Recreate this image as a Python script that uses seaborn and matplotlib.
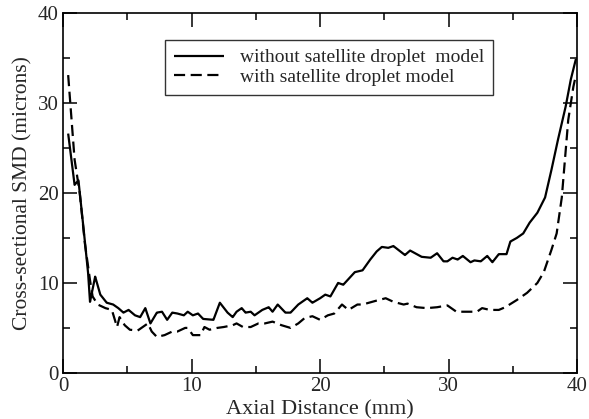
import matplotlib
matplotlib.use("Agg")
import matplotlib.pyplot as plt
import pandas as pd
import seaborn as sns
from matplotlib.ticker import MultipleLocator

# Solid curve: without satellite droplet model
x_without = [0.4, 0.9, 1.2, 1.6, 1.95, 2.1, 2.5, 2.9, 3.4, 3.9, 4.3, 4.7, 5.1, 5.6, 6.0,
             6.4, 6.8, 7.3, 7.7, 8.1, 8.5, 8.9, 9.4, 9.7, 10.1, 10.5, 10.9, 11.7, 12.2,
             12.8, 13.2, 13.5, 13.9, 14.2, 14.6, 14.9, 15.5, 16.0, 16.3, 16.7, 17.3, 17.7,
             18.3, 19.0, 19.4, 20.0, 20.4, 20.8, 21.4, 21.8, 22.7, 23.3, 23.9, 24.4, 24.8,
             25.3, 25.7, 26.6, 27.0, 27.9, 28.6, 29.1, 29.6, 29.9, 30.3, 30.7, 31.1, 31.7,
             32.0, 32.5, 33.0, 33.4, 33.9, 34.5, 34.8, 35.3, 35.8, 36.3, 36.9, 37.5, 38.0,
             38.5, 39.1, 39.5, 39.9]
y_without = [26.6, 20.9, 21.4, 16.0, 11.1, 7.9, 10.7, 8.7, 7.8, 7.6, 7.2, 6.7, 7.0, 6.4, 6.2,
             7.2, 5.5, 6.7, 6.8, 5.9, 6.7, 6.6, 6.4, 6.8, 6.4, 6.6, 6.0, 5.9, 7.8,
             6.7, 6.2, 6.8, 7.2, 6.7, 6.8, 6.4, 7.0, 7.3, 6.8, 7.6, 6.7, 6.7,
             7.6, 8.3, 7.8, 8.3, 8.7, 8.5, 10.0, 9.8, 11.2, 11.4, 12.6, 13.5, 14.0,
             13.9, 14.1, 13.1, 13.6, 12.9, 12.8, 13.3, 12.4, 12.4, 12.8, 12.6, 13.0, 12.3,
             12.5, 12.4, 13.0, 12.3, 13.2, 13.2, 14.6, 15.0, 15.5, 16.7, 17.8, 19.5, 22.6,
             25.9, 29.6, 32.6, 34.9]

# Dashed curve: with satellite droplet model
x_with = [0.4, 0.9, 1.3, 1.7, 2.1, 2.3, 2.7, 3.3, 3.8, 4.2, 4.4, 4.8, 5.2, 5.8, 6.2, 6.6,
          6.9, 7.3, 7.9, 8.5, 8.9, 9.5, 9.7, 10.1, 10.7, 11.0, 11.4, 12.0, 12.5, 13.2,
          13.5, 14.0, 14.6, 15.2, 15.7, 16.3, 17.0, 17.7, 18.3, 18.8, 19.4, 20.0, 20.6,
          21.1, 21.7, 22.2, 22.9, 23.3, 24.3, 25.1, 25.7, 26.5, 26.8, 27.5, 28.3, 29.1,
          29.9, 30.6, 31.4, 32.2, 32.6, 33.2, 33.9, 34.4, 35.3, 36.1, 36.9, 37.4, 38.0,
          38.4, 38.8, 39.3, 39.7, 39.9]
y_with = [33.1, 23.7, 20.0, 14.4, 10.3, 8.5, 7.6, 7.2, 7.0, 5.1, 6.2, 5.3, 4.8, 4.7, 5.1, 5.5,
          4.6, 4.0, 4.2, 4.6, 4.6, 5.0, 5.0, 4.2, 4.2, 5.1, 4.8, 5.0, 5.1, 5.3,
          5.5, 5.1, 5.1, 5.5, 5.5, 5.7, 5.3, 5.0, 5.5, 6.1, 6.3, 5.9, 6.4,
          6.6, 7.6, 7.0, 7.6, 7.6, 8.0, 8.3, 7.9, 7.6, 7.7, 7.3, 7.2, 7.3,
          7.5, 6.8, 6.8, 6.8, 7.2, 7.0, 7.0, 7.3, 8.1, 8.9, 10.0, 11.2, 13.7,
          15.5, 19.5, 28.1, 31.8, 33.1]

LABELS = ["without satellite droplet  model", "with satellite droplet model"]


def main() -> None:
    sns.set_theme(style="ticks")
    plt.rcParams["font.family"] = ["Liberation Serif", "DejaVu Serif"]

    df = pd.concat(
        [
            pd.DataFrame({"x": x_without, "y": y_without, "model": LABELS[0]}),
            pd.DataFrame({"x": x_with, "y": y_with, "model": LABELS[1]}),
        ],
        ignore_index=True,
    )

    fig = plt.figure(figsize=(5.89, 4.19), dpi=100)
    ax = fig.add_axes([0.107, 0.110, 0.873, 0.859])

    sns.lineplot(
        data=df,
        x="x",
        y="y",
        hue="model",
        style="model",
        palette=["black", "black"],
        dashes=[(1, 0), (5, 2.5)],
        estimator=None,
        sort=False,
        linewidth=1.6,
        ax=ax,
    )

    ax.set_xlim(0, 40)
    ax.set_ylim(0, 40)
    ax.xaxis.set_major_locator(MultipleLocator(10))
    ax.xaxis.set_minor_locator(MultipleLocator(5))
    ax.yaxis.set_major_locator(MultipleLocator(10))
    ax.yaxis.set_minor_locator(MultipleLocator(5))
    ax.tick_params(which="both", direction="in", top=True, right=True, color="black",
                   labelsize=15, width=1.1, pad=3)
    ax.tick_params(which="major", length=10)
    ax.tick_params(which="minor", length=5)
    for spine in ax.spines.values():
        spine.set_linewidth(1.2)
        spine.set_color("black")

    ax.set_xlabel("Axial Distance (mm)", fontsize=16, labelpad=3)
    ax.set_ylabel("Cross-sectional SMD (microns)", fontsize=15.5, labelpad=4)

    leg = ax.legend(
        loc="upper left",
        bbox_to_anchor=(0.198, 0.925),
        borderaxespad=0,
        fontsize=14,
        frameon=True,
        fancybox=False,
        edgecolor="black",
        handlelength=2.6,
        borderpad=0.45,
        labelspacing=0.1,
    )
    leg.get_frame().set_linewidth(1.0)

    fig.savefig("out.png", dpi=100)
    plt.close(fig)


if __name__ == "__main__":
    main()
